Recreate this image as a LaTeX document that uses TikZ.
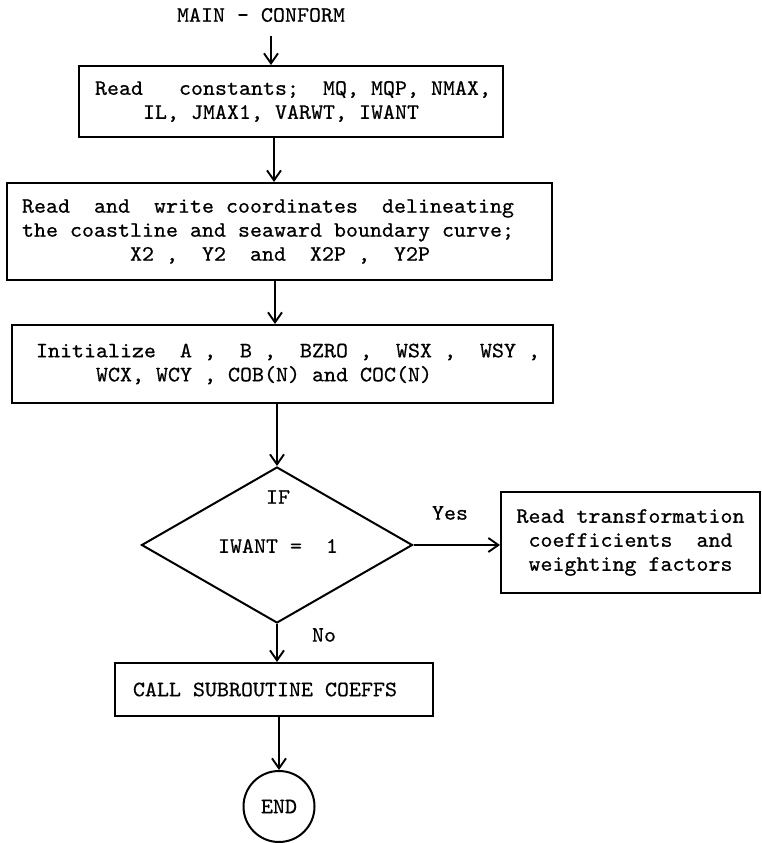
\documentclass[tikz,border=0pt]{standalone}
\usepackage{fontspec}
\newfontfamily\tw{lmmono10-regular}[Extension=.otf,FakeStretch=1.039,FakeBold=0.6,WordSpace={1,0,0}]
\newcommand\myfnt{\tw\fontsize{22}{24}\selectfont\hyphenpenalty=10000\relax}
\newcommand\fixsp{\setbox0\hbox{M}\spaceskip=\wd0\relax\xspaceskip=\wd0\relax\frenchspacing}
\usetikzlibrary{arrows.meta,shapes.geometric}
\begin{document}
\begin{tikzpicture}[x=1pt,y=-1pt,
  every node/.style={font=\myfnt,execute at begin node=\fixsp},
  box/.style={draw,line width=2pt,align=left},
  arr/.style={line width=1.9pt,-{Straight Barb[length=10pt,width=14pt]}},
]
\useasboundingbox (0,0) rectangle (761,843);
\node (title) at (261,15) {MAIN~-~CONFORM};
\node[box,minimum width=424pt,minimum height=71pt,inner xsep=16pt,text width=392pt] (b1) at (291,101.5)
  {Read~~~constants;~~MQ,~MQP,~NMAX,\\~~~~IL,~JMAX1,~VARWT,~IWANT};
\node[box,minimum width=545pt,minimum height=97pt,inner xsep=15pt,text width=515pt] (b2) at (279.5,231.5)
  {Read~~and~~write~coordinates~~delineating\\the~coastline~and~seaward~boundary~curve;\\~~~~~~~~~X2~,~~Y2~~and~~X2P~,~~Y2P};
\node[box,minimum width=541pt,minimum height=78pt,inner xsep=24pt,text width=493pt] (b3) at (282.5,364)
  {Initialize~~A~,~~B~,~~BZRO~,~~WSX~,~~WSY~,\\~~~~~WCX,~WCY~,~COB(N)~and~COC(N)};
\node[draw,diamond,line width=2pt,minimum width=271pt,minimum height=156pt,inner sep=0pt] (d) at (277,545) {};
\node (if) at (278,497) {IF};
\node (cond) at (278,546) {IWANT~=~~1};
\node (yes) at (450,513) {Yes};
\node (no) at (324,635) {No};
\node[box,minimum width=259pt,minimum height=101pt,inner xsep=15.5pt,text width=228pt] (rb) at (630.5,542.5)
  {Read~transformation\\~coefficients~~and\\~weighting~factors};
\node[box,minimum width=318pt,minimum height=53pt,inner xsep=18pt,text width=282pt] (call) at (274,689.5)
  {CALL~SUBROUTINE~COEFFS};
\node[draw,circle,line width=2pt,minimum size=71pt,inner sep=0pt] (end) at (279,806.5) {END};
\coordinate (ax1) at (271,0);
\coordinate (ax2) at (274,0);
\coordinate (ax3) at (275,0);
\draw[arr,shorten <=10pt] (title.south -| ax1) -- (b1.north -| ax1);
\draw[arr] (b1.south -| ax2) -- (b2.north -| ax2);
\draw[arr] (b2.south -| ax3) -- (b3.north -| ax3);
\draw[arr] (b3.south -| d.north) -- (d.north);
\draw[arr] (d.east) -- (d.east -| rb.west);
\draw[arr] (d.south) -- (d.south |- call.north);
\draw[arr] (call.south -| end.north) -- (end.north);
\end{tikzpicture}
\end{document}
